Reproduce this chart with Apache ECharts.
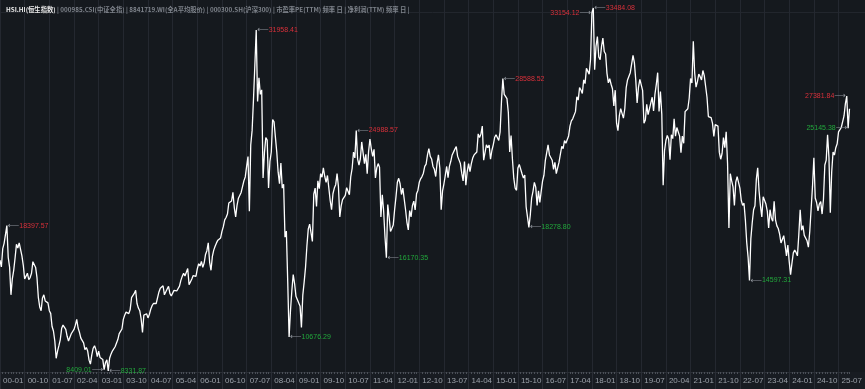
<!DOCTYPE html>
<html><head><meta charset="utf-8">
<script src="https://cdn.jsdelivr.net/npm/echarts/dist/echarts.min.js"></script>
<style>html,body{margin:0;padding:0;background:#15191e;}#c{width:865px;height:389px;}</style>
</head><body><div id="c"></div><script>
// Half-month readings of HSI.HI, two per month (mid, end)
const y2000 = [16000,15532, 16800,17169, 17100,18397.57, 16200,15519, 13600,14713, 15300,16155, 17100,16841, 17200,17097, 16300,15648, 14700,14895, 15100,14656, 14800,15096];
const y2001 = [15900,15763, 15500,14787, 13400,12761, 12500,13387, 13600,13174, 13300,13043, 12500,12316, 11400,11090, 10400,9200, 9700,10073, 10500,11279, 11500,11397];
const y2002 = [11200,10725, 10400,10482, 10900,11033, 11200,11497, 11900,11301, 11000,10599, 10500,10268, 9800,9950, 9700,9072, 8800,9441, 9900,10070, 9800,9321];
const y2003 = [9700,9258, 9300,9122, 8409.01,8900, 9100,8331.87, 9200,9487, 9700,9577, 10000,10134, 10500,10908, 11000,11229, 11900,12190, 12400,12317, 12300,12576];
const y2004 = [13400,13289, 13700,13918, 13000,12682, 12500,11942, 11000,12198, 12300,12286, 12000,12238, 12600,12850, 13000,13120, 13000,13054, 13800,14060, 14100,14230];
const y2005 = [13600,13721, 14000,14195, 13700,13516, 13600,13908, 13800,13867, 14000,14201, 14600,14880, 15100,14903, 15000,15429, 14300,14386, 14700,14937, 15000,14876];
const y2006 = [15400,15753, 15600,15918, 15500,15805, 16400,16661, 17200,15857, 15300,16267, 16700,16971, 17200,17392, 17400,17543, 18000,18324, 18800,18960, 19200,19965];
const y2007 = [20100,20106, 20700,19651, 19000,19801, 20300,20318, 20700,20635, 21500,21773, 22500,23185, 19400,23984, 25000,27143, 29500,31958.41, 27000,28643, 27500,27813];
const y2008 = [21700,23456, 24500,24332, 21000,22849, 23500,25755, 25600,24533, 23500,22102, 21300,22731, 21000,21262, 17600,18016, 14500,10676.29, 12500,13888, 15000,14387];
const y2009 = [13500,13278, 13200,12812, 11345,13576, 14500,15521, 17000,18171, 18500,18379, 17300,20573, 21000,19724, 21500,20955, 22000,21753, 22400,21822, 21400,21873];
const y2010 = [22000,20122, 19500,20609, 21000,21239, 22000,21108, 19000,19765, 20200,20129, 20500,21030, 21100,20536, 21800,22358, 23500,23096, 24988.57,23008, 22600,23035];
const y2011 = [24200,23447, 22700,23338, 22000,23528, 24400,23720, 23200,23684, 21700,22398, 22700,22440, 19000,20534, 19400,17592, 16170.35,19864, 19000,17989, 18200,18434];
const y2012 = [19500,20390, 21400,21680, 21300,20556, 21000,21094, 19500,18630, 18100,19441, 19000,19796, 20100,19482, 20600,20840, 21400,21642, 21800,22030, 22500,22657];
const y2013 = [23300,23729, 23200,23020, 22500,22300, 21800,22737, 23300,22392, 19500,20803, 21300,21883, 22500,21731, 22500,22860, 23300,23206, 23700,23881, 23200,23306];
const y2014 = [22700,22035, 21500,22837, 21200,22151, 22700,22134, 22700,23082, 23300,23191, 23500,24757, 24500,24742, 25300,22933, 23000,23998, 23800,23987, 23000,23605];
const y2015 = [24000,24507, 24700,24823, 24300,24901, 27000,28588.52, 27500,27424, 27200,26250, 23500,24636, 23000,21670, 21000,20846, 22400,22640, 22700,21996, 21700,21914];
const y2016 = [19700,19683, 18278.80,19112, 20300,20777, 21400,21067, 19800,20815, 20000,20794, 21500,21891, 22900,22977, 24000,23297, 23400,22935, 22300,22790, 22000,22001];
const y2017 = [22800,23361, 23900,23741, 24300,24112, 24000,24615, 25300,25661, 25800,25765, 26300,27324, 27100,27970, 27800,27554, 28500,28246, 29300,29177, 28900,29919];
const y2018 = [33154.12,33484.08, 29200,30845, 31500,30093, 29900,30808, 31400,30469, 30300,28955, 28300,28583, 28200,27889, 26700,27789, 25500,24980, 26000,26507, 26500,25846];
const y2019 = [26500,27942, 28500,28633, 29000,29051, 30200,29699, 28500,26901, 28000,28543, 28600,27778, 25500,25725, 26800,26092, 26500,26907, 27300,26346, 27500,28190];
const y2020 = [29000,26313, 27700,26130, 21200,23603, 24300,24644, 24400,22961, 24700,24427, 25800,24595, 25200,25177, 24600,23459, 24600,24107, 26300,26341, 26500,27231];
const y2021 = [28600,28284, 31183,28980, 28000,28378, 28900,28725, 28500,29152, 28800,28828, 27300,25961, 26000,25879, 25500,24576, 25400,25377, 25300,23475, 23000,23398];
const y2022 = [24500,23802, 24900,22713, 18235,21997, 21500,21089, 19800,21415, 21800,21860, 21000,20157, 19800,19954, 18800,17223, 16200,14597.31, 17500,18597, 19500,19781];
const y2023 = [21600,22400, 20800,19786, 19000,20400, 20300,19895, 19400,18234, 19500,18916, 18700,20079, 18800,18382, 18200,17810, 17200,17112, 17700,17043, 16300,17047];
const y2024 = [15900,15000, 15800,16511, 16700,16541, 16300,17763, 19500,18080, 18400,17719, 17800,17344, 16900,17989, 17900,21134, 23100,20317, 20000,19424, 19900,20060];
const y2025 = [19200,20225, 22600,22941, 24700,23120, 19300,22119, 23500,23290, 23800,24072, 24900,24773, 25200,25077, 26000,26856, 27381.84,25145.38, 26500];

const years = [y2000,y2001,y2002,y2003,y2004,y2005,y2006,y2007,y2008,y2009,y2010,y2011,y2012,y2013,y2014,y2015,y2016,y2017,y2018,y2019,y2020,y2021,y2022,y2023,y2024,y2025];
const firstYear = 2000;

// Labelled extremes
const markers = [
  {value:18397.57, kind:'high', side:'right'},
  {value:8409.01,  kind:'low',  side:'left'},
  {value:8331.87,  kind:'low',  side:'right'},
  {value:31958.41, kind:'high', side:'right'},
  {value:10676.29, kind:'low',  side:'right'},
  {value:24988.57, kind:'high', side:'right'},
  {value:16170.35, kind:'low',  side:'right'},
  {value:28588.52, kind:'high', side:'right'},
  {value:18278.80, kind:'low',  side:'right'},
  {value:33154.12, kind:'high', side:'left'},
  {value:33484.08, kind:'high', side:'right'},
  {value:14597.31, kind:'low',  side:'right'},
  {value:27381.84, kind:'high', side:'left'},
  {value:25145.38, kind:'low',  side:'left'}
];

const headerMain = 'HSI.HI(恒生指数)';
const headerRest = ' | 000985.CSI(中证全指) | 8841719.WI(全A平均股价) | 000300.SH(沪深300) | 市盈率PE(TTM) 频率 日 | 净利润(TTM) 频率 日 |';

const values = [];
const cats = [];
years.forEach((arr, yi) => {
  arr.forEach((v, k) => {
    const m = Math.floor(k / 2) + 1;
    const yy = String((firstYear + yi) % 100).padStart(2, '0');
    const mm = String(m).padStart(2, '0');
    cats.push(yy + '-' + mm + (k % 2 ? 'b' : 'a'));
    values.push(v);
  });
});

const RED = '#d8303a', GREEN = '#22a83c', GREY = '#8e939a';
const mpData = markers.map(m => {
  const idx = values.indexOf(m.value);
  const t = m.value.toFixed(2);
  const fmt = m.side === 'right' ? '{a|⟵}{v|' + t + '}' : '{v|' + t + '}{a|⟶}';
  return {
    coord: [idx, m.value],
    label: {
      show: true, position: m.side, distance: 1, formatter: fmt,
      rich: {
        a: {color: GREY, fontSize: 8, fontFamily: 'DejaVu Sans'},
        v: {color: m.kind === 'high' ? RED : GREEN, fontSize: 7, fontFamily: 'Liberation Sans'}
      }
    }
  };
});

const chart = echarts.init(document.getElementById('c'), null, {renderer: 'canvas'});
const labelEvery = 18;
chart.setOption({
  backgroundColor: '#15191e',
  animation: false,
  title: {
    left: 1, top: 1,
    text: '{m|' + headerMain + '}{r|' + headerRest + '}',
    textStyle: {
      rich: {
        m: {color: '#ececec', fontSize: 6.3, fontWeight: 'bold', fontFamily: 'Noto Sans CJK SC'},
        r: {color: '#7e838b', fontSize: 6.3, fontFamily: 'Noto Sans CJK SC'}
      }
    }
  },
  graphic: [
    {type: 'rect', z: -1, shape: {x: 0, y: 372, width: 865, height: 17}, style: {fill: '#181c22'}, silent: true},
    {type: 'line', shape: {x1: 0, y1: 12.5, x2: 865, y2: 12.5}, style: {stroke: '#22262d', lineWidth: 1}, silent: true}
  ],
  grid: {left: 0, right: 14, top: 0, bottom: 17, containLabel: false},
  xAxis: [{
    type: 'category', data: cats, boundaryGap: false, gridIndex: 0,
    axisLine: {show: true, lineStyle: {color: '#2a2e35'}},
    axisTick: {show: true, interval: (i) => i % 2 === 0, length: 2, lineStyle: {color: '#4a4f57'}},
    axisLabel: {
      interval: (i) => i % labelEvery === 0, formatter: (v) => v.slice(0, 5),
      color: '#9aa0a8', fontSize: 8, fontFamily: 'Liberation Sans', align: 'left', padding: [0, 0, 0, 3], margin: 5
    },
    splitLine: {show: true, interval: (i) => i % labelEvery === 0, lineStyle: {color: '#242830', width: 1}}
  }, {
    type: 'category', data: cats, boundaryGap: false, gridIndex: 0, position: 'bottom',
    axisLine: {show: false},
    axisTick: {show: true, interval: (i) => i % labelEvery === 0, length: 17, lineStyle: {color: '#2a2e36'}},
    axisLabel: {show: false},
    splitLine: {show: false}
  }],
  yAxis: {
    type: 'value', min: 8250, max: 34040, show: true,
    axisLine: {show: false}, axisTick: {show: false}, axisLabel: {show: false},
    splitLine: {show: false}
  },
  series: [{
    type: 'line', data: values, xAxisIndex: 0, symbol: 'none',
    lineStyle: {color: '#ffffff', width: 1.3},
    markPoint: {symbol: 'circle', symbolSize: 0, data: mpData}
  }]
});
</script></body></html>
